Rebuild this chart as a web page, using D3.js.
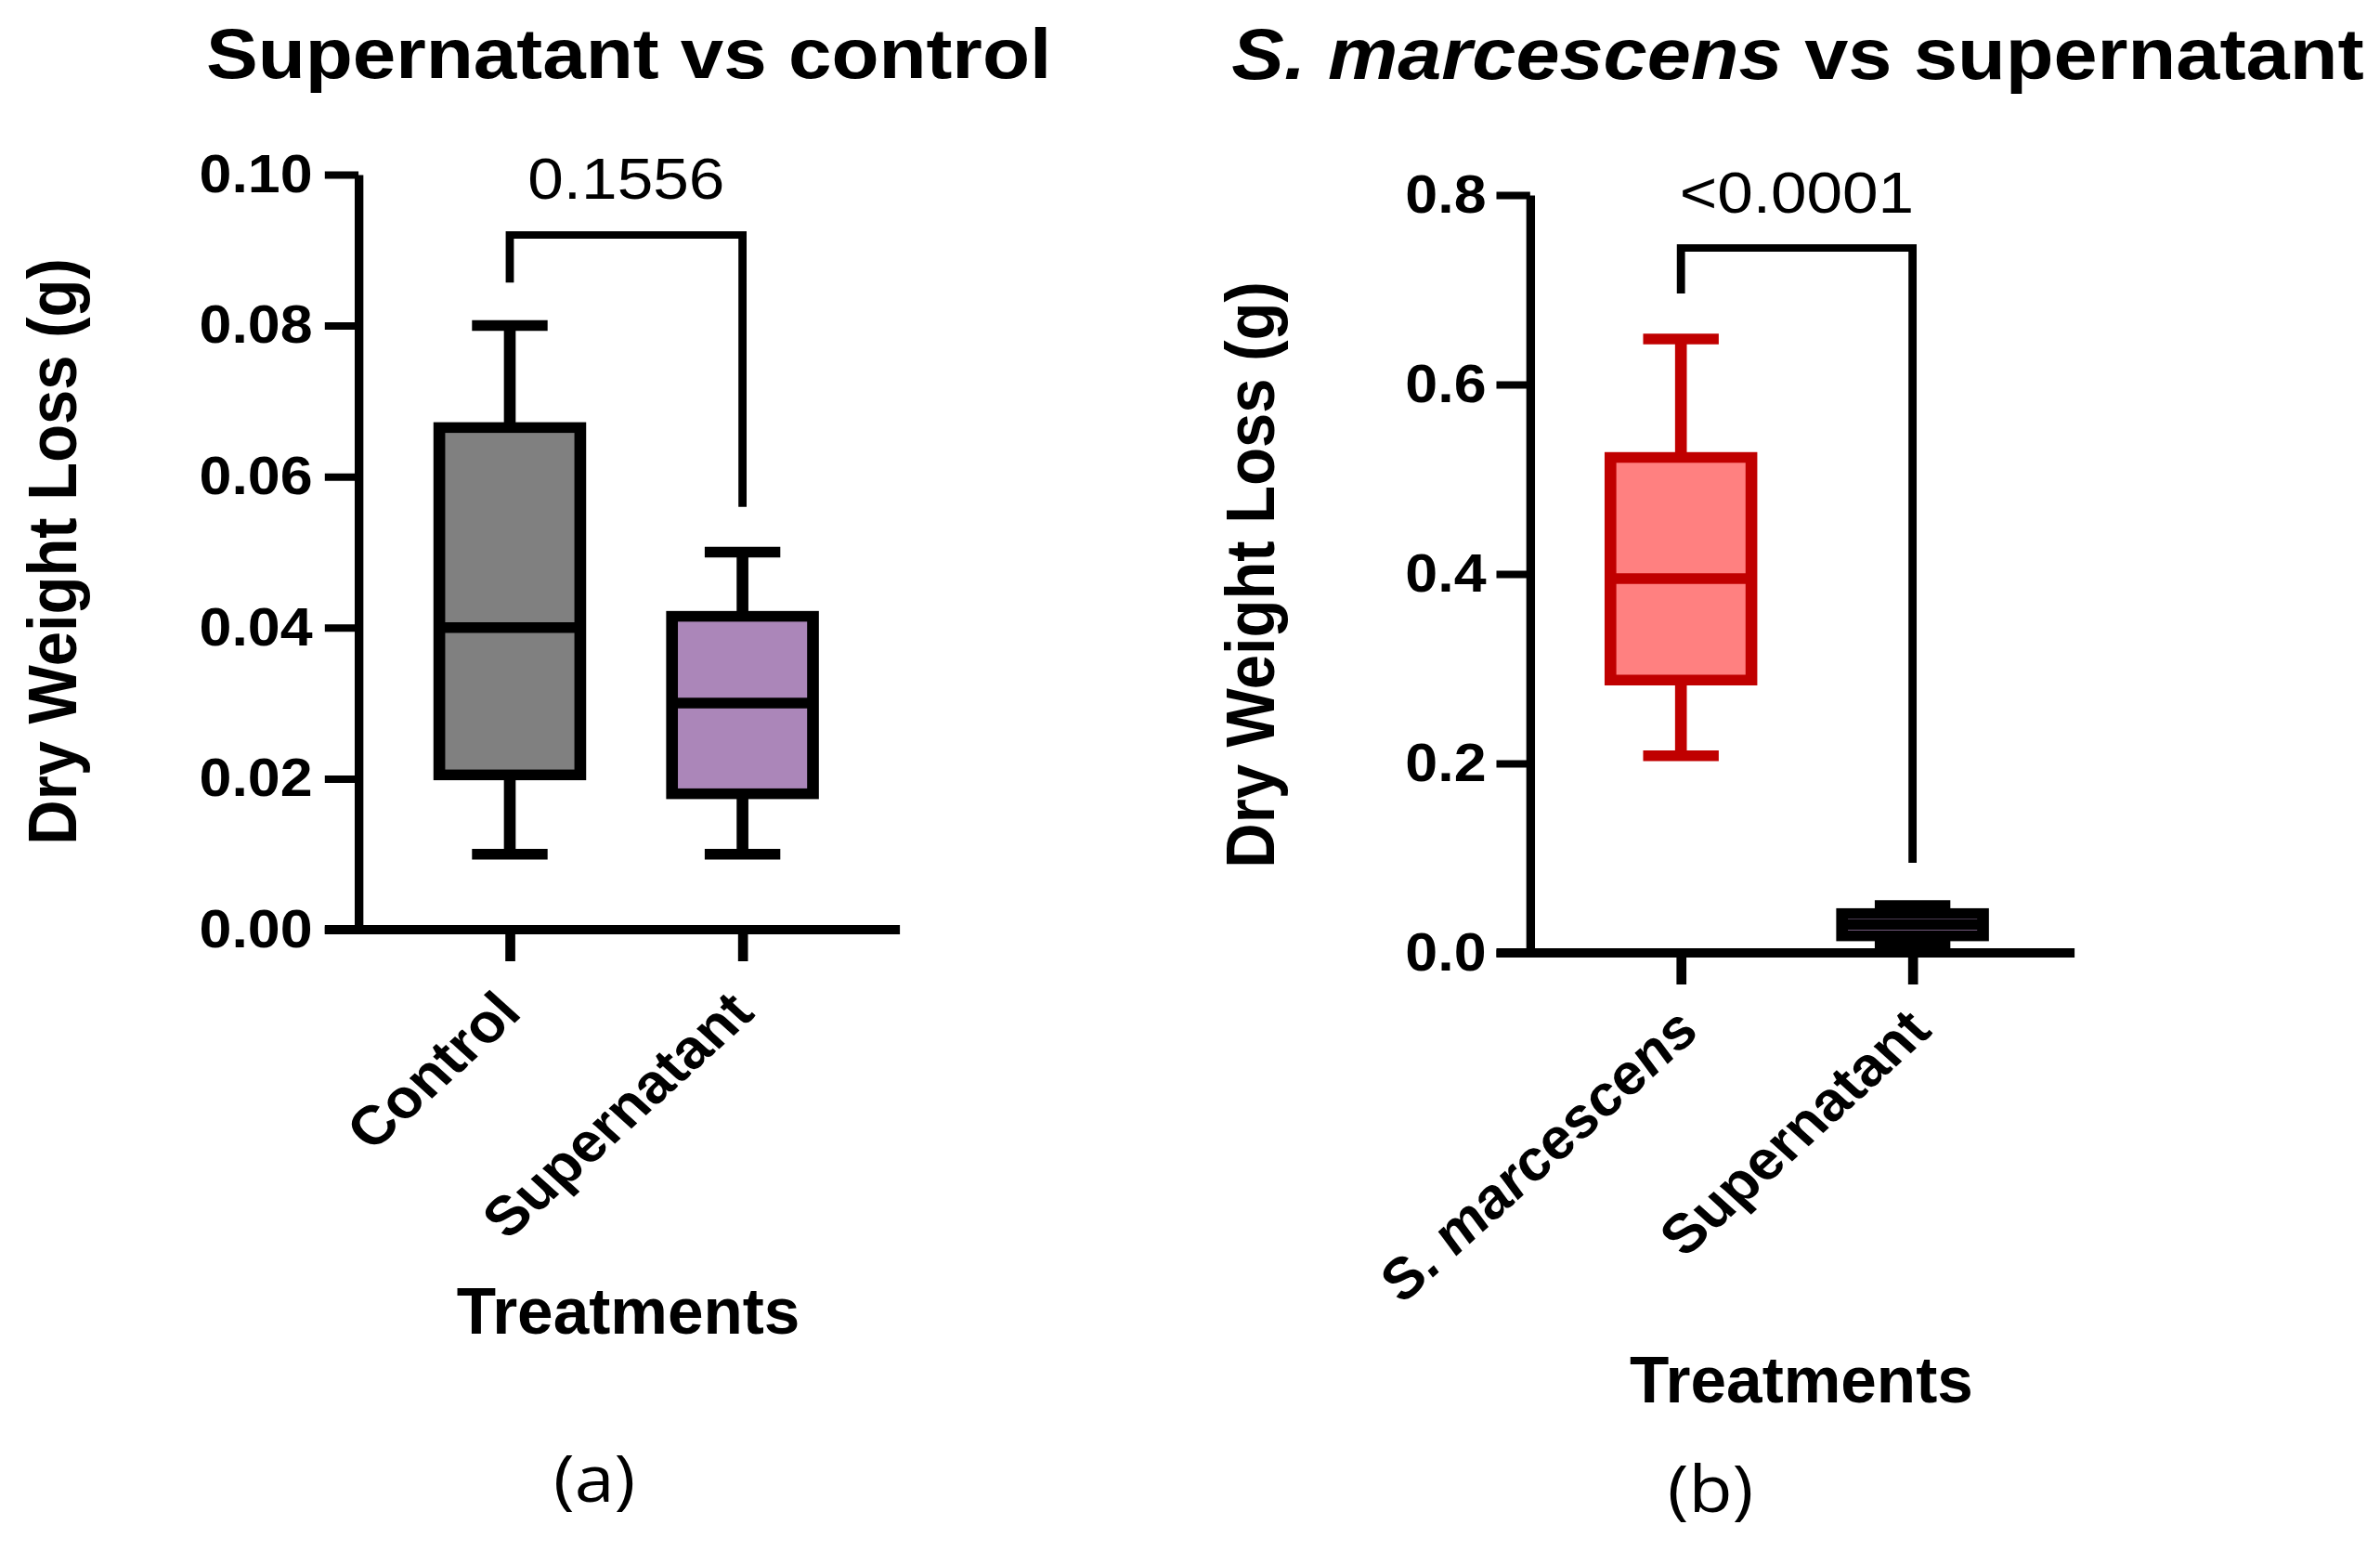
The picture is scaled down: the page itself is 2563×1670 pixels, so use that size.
<!DOCTYPE html>
<html><head><meta charset="utf-8">
<script src="https://cdn.jsdelivr.net/npm/d3@7"></script>
<style>
html,body{margin:0;padding:0;background:#fff;}
svg{display:block;}
</style></head><body>
<svg id="chart" width="2563" height="1670" viewBox="0 0 2330 1670" preserveAspectRatio="none"></svg>
<script>
// ---------- data ----------
const catsA = ["Control", "Supernatant"];
const minA  = [0.010, 0.010];
const q1A   = [0.0205, 0.018];
const medA  = [0.040, 0.030];
const q3A   = [0.0665, 0.0415];
const maxA  = [0.080, 0.050];
const ticksA = [0, 0.02, 0.04, 0.06, 0.08, 0.10];
const bracketA = [0.0857, 0.092, 0.056];   // left end, top, right end
const pA = "0.1556";

const catsB = ["S. marcescens", "Supernatant"];
const italicB = [true, false];
const minB  = [0.208, 0.010];
const q1B   = [0.288, 0.018];
const medB  = [0.395, 0.030];
const q3B   = [0.523, 0.0415];
const maxB  = [0.648, 0.050];
const ticksB = [0, 0.2, 0.4, 0.6, 0.8];
const bracketB = [0.696, 0.744, 0.095];
const pB = "<0.0001";

const fillA = ["#808080", "#AB86B9"], strokeA = ["#000000", "#000000"];
const fillB = ["#FF8080", "#AB86B9"], strokeB = ["#C00000", "#000000"];

// ---------- drawing ----------
const FONT = "'Liberation Sans', Arial, Helvetica, sans-serif";
const svg = d3.select("#chart");

function drawPanel(p) {
  const g = svg.append("g");
  const y = d3.scaleLinear().domain(p.domain).range(p.yRange);
  const x = d3.scalePoint().domain(p.cats).range(p.xRange).padding(p.pad);
  const y0 = y(0);

  // title
  const t = g.append("text").attr("x", p.titleX).attr("y", p.titleY)
    .attr("text-anchor", "middle").style("font-family", FONT)
    .style("font-weight", "bold").style("font-size", p.titleSize + "px").attr("fill", "#000");
  p.title.forEach(part => t.append("tspan").text(part.t).style("font-style", part.i ? "italic" : "normal"));

  // y axis
  const ya = g.append("g").attr("transform", `translate(${p.xRange[0]},0)`)
    .call(d3.axisLeft(y).tickValues(p.ticks).tickFormat(d3.format(p.fmt))
      .tickSize(33).tickSizeOuter(0).tickPadding(p.tickPad));
  ya.select(".domain").attr("stroke", "#000").attr("stroke-width", 8.5);
  ya.selectAll(".tick line").attr("stroke", "#000").attr("stroke-width", 8);
  ya.selectAll(".tick text").attr("fill", "#000")
    .style("font-family", FONT).style("font-weight", "bold").style("font-size", "57px");

  // y label
  g.append("text").attr("transform", `translate(${p.ylabX},${p.ylabY}) rotate(-90)`)
    .attr("text-anchor", "middle").style("font-family", FONT).style("font-weight", "bold")
    .style("font-size", "67px").attr("fill", "#000").text("Dry Weight Loss (g)");

  // boxes
  const hw = 69, cw = 37, sw = 11.5;
  p.cats.forEach((c, i) => {
    const cx = x(c), col = p.stroke[i];
    const bg = g.append("g");
    bg.append("line").attr("x1", cx).attr("x2", cx).attr("y1", y(p.min[i])).attr("y2", y(p.q1[i]))
      .attr("stroke", col).attr("stroke-width", sw);
    bg.append("line").attr("x1", cx).attr("x2", cx).attr("y1", y(p.q3[i])).attr("y2", y(p.max[i]))
      .attr("stroke", col).attr("stroke-width", sw);
    [p.min[i], p.max[i]].forEach(v => bg.append("line").attr("x1", cx - cw).attr("x2", cx + cw)
      .attr("y1", y(v)).attr("y2", y(v)).attr("stroke", col).attr("stroke-width", sw));
    bg.append("rect").attr("x", cx - hw).attr("width", 2 * hw)
      .attr("y", y(p.q3[i])).attr("height", y(p.q1[i]) - y(p.q3[i]))
      .attr("fill", p.fill[i]).attr("stroke", col).attr("stroke-width", sw);
    bg.append("line").attr("x1", cx - hw).attr("x2", cx + hw).attr("y1", y(p.med[i])).attr("y2", y(p.med[i]))
      .attr("stroke", col).attr("stroke-width", sw);
  });

  // x axis
  const xa = g.append("g").attr("transform", `translate(0,${y0})`)
    .call(d3.axisBottom(x).tickSize(34).tickSizeOuter(0));
  xa.select(".domain").remove();
  xa.selectAll(".tick line").attr("stroke", "#000").attr("stroke-width", 9.7);
  xa.selectAll(".tick text").attr("fill", "#000").attr("y", null).attr("dy", null)
    .attr("text-anchor", "end").attr("transform", `translate(${p.labDx},${p.labDy}) rotate(-45)`)
    .style("font-family", FONT).style("font-weight", "bold").style("font-size", "59px")
    .style("font-style", (d, i) => p.italic[i] ? "italic" : "normal");
  g.append("line").attr("x1", p.xRange[0] - 33).attr("x2", p.xEnd).attr("y1", y0).attr("y2", y0)
    .attr("stroke", "#000").attr("stroke-width", 10);

  // significance bracket
  const b = p.bracket, c0 = x(p.cats[0]), c1 = x(p.cats[1]);
  g.append("path").attr("d", `M${c0},${y(b[0])}V${y(b[1])}H${c1}V${y(b[2])}`)
    .attr("fill", "none").attr("stroke", "#000").attr("stroke-width", 8);
  g.append("text").attr("x", (c0 + c1) / 2).attr("y", p.pY).attr("text-anchor", "middle")
    .style("font-family", FONT).style("font-size", "63px").attr("fill", "#000").text(p.pText);

  // x title
  g.append("text").attr("transform", `translate(${p.xlabX},${p.xlabY}) scale(0.9,1)`)
    .attr("text-anchor", "middle").style("font-family", FONT).style("font-weight", "bold")
    .style("font-size", "70px").attr("fill", "#000").text("Treatments");

  // panel letter
  g.append("text").attr("x", p.letterX).attr("y", p.letterY).attr("text-anchor", "middle")
    .style("font-family", "'Open Sans', 'Liberation Sans', sans-serif").style("font-size", "70px")
    .attr("fill", "#000").text(p.letter);
}

drawPanel({
  cats: catsA, italic: [false, false], min: minA, q1: q1A, med: medA, q3: q3A, max: maxA,
  fill: fillA, stroke: strokeA, ticks: ticksA, fmt: ".2f", bracket: bracketA, pText: pA,
  domain: [0, 0.10], yRange: [1001, 188], xRange: [351, 875], pad: 0.65, xEnd: 881, tickPad: 12,
  title: [{t: "Supernatant vs control", i: false}], titleX: 615.5, titleY: 84, titleSize: 76,
  labDx: 13, labDy: 92,
  ylabX: 74.5, ylabY: 594, pY: 214, xlabX: 615, xlabY: 1436, letter: "(a)", letterX: 582, letterY: 1617
});

drawPanel({
  cats: catsB, italic: italicB, min: minB, q1: q1B, med: medB, q3: q3B, max: maxB,
  fill: fillB, stroke: strokeB, ticks: ticksB, fmt: ".1f", bracket: bracketB, pText: pB,
  domain: [0, 0.8], yRange: [1026, 210], xRange: [1498, 2020], pad: 0.651, xEnd: 2031, tickPad: 10,
  title: [{t: "S. marcescens", i: true}, {t: " vs supernatant", i: false}], titleX: 1760, titleY: 85, titleSize: 77,
  labDx: 20, labDy: 86,
  ylabX: 1247, ylabY: 619, pY: 229, xlabX: 1763.6, xlabY: 1510, letter: "(b)", letterX: 1674.5, letterY: 1628
});
</script>
</body></html>
